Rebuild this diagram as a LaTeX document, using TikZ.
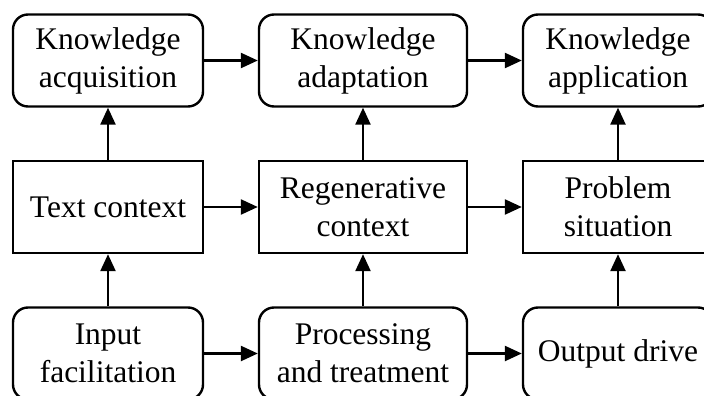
\documentclass[tikz,border=0pt]{standalone}
\usepackage{fontspec}
\setmainfont{Liberation Serif}
\usetikzlibrary{arrows.meta}
\begin{document}
\begin{tikzpicture}[x=1pt,y=-1pt,line width=2.4pt,
    box/.style    ={draw,inner sep=0pt,align=center,minimum height=92pt,
                    font=\fontsize{31.5}{38}\selectfont},
    roundbox/.style={box,rounded corners=15pt},
    flow/.style   ={-{Triangle[length=17pt,width=15pt]}}]
  \useasboundingbox      (0,0) rectangle (704,396);
  \begin{scope}
  \clip                  (0,0) rectangle (704,396);
  % top row
  \node[roundbox,minimum width=190pt] (acq)  at (108,60.5)  {Knowledge\\acquisition};
  \node[roundbox,minimum width=208pt] (adap) at (363,60.5)  {Knowledge\\adaptation};
  \node[roundbox,minimum width=190pt] (appl) at (618,60.5)  {Knowledge\\application};
  % middle row
  \node[box,minimum width=190pt]      (text) at (108,207)   {Text context};
  \node[box,minimum width=208pt]      (regn) at (363,207)   {Regenerative\\context};
  \node[box,minimum width=190pt]      (prob) at (618,207)   {Problem\\situation};
  % bottom row
  \node[roundbox,minimum width=190pt] (inp)  at (108,353.5) {Input\\facilitation};
  \node[roundbox,minimum width=208pt] (proc) at (363,353.5) {Processing\\and treatment};
  \node[roundbox,minimum width=190pt] (outp) at (618,353.5) {Output drive};
  \end{scope}

  \foreach \a/\b in {acq/adap,adap/appl,text/regn,regn/prob,inp/proc,proc/outp,
                     inp/text,proc/regn,outp/prob,text/acq,regn/adap,prob/appl}
    \draw[flow] (\a) -- (\b);
\end{tikzpicture}
\end{document}
